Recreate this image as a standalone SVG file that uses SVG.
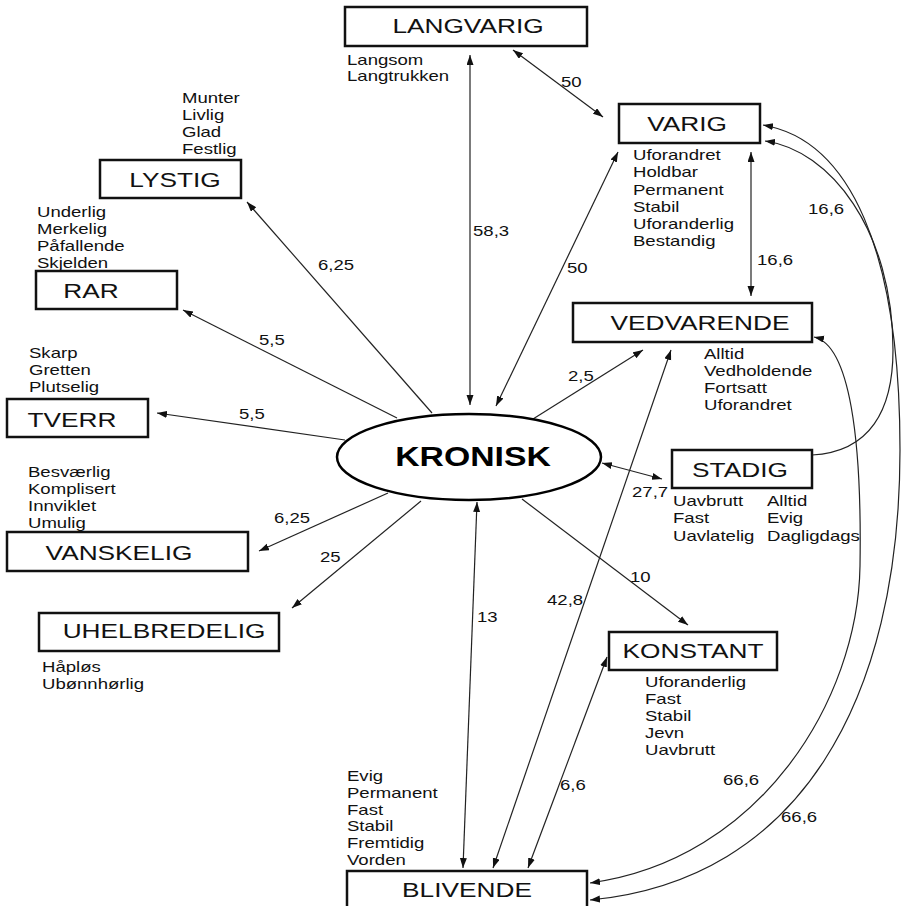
<svg xmlns="http://www.w3.org/2000/svg" width="901" height="906" viewBox="0 0 901 906">
<defs>
<marker id="ah" markerUnits="userSpaceOnUse" markerWidth="11" markerHeight="8" refX="10" refY="3.5" orient="auto-start-reverse" viewBox="0 0 11 8">
<path d="M0,0 L10,3.5 L0,7 z" fill="#111"/>
</marker>
</defs>
<style>
.box{fill:#fff;stroke:#111;stroke-width:2.5}
.lbl{font-family:"Liberation Sans",Arial,sans-serif;font-size:21px;fill:#111;text-anchor:middle}
.sm{font-family:"Liberation Sans",Arial,sans-serif;font-size:14.5px;fill:#111}
.ln{fill:none;stroke:#222;stroke-width:1.2}
.big{font-family:"Liberation Sans",Arial,sans-serif;font-size:27px;font-weight:bold;fill:#000;text-anchor:middle}
</style>
<rect width="901" height="906" fill="#fff"/>

<g id="connectors">
<line class="ln" x1="470" y1="405" x2="470" y2="55" marker-start="url(#ah)" marker-end="url(#ah)"/>
<line class="ln" x1="513" y1="50" x2="603" y2="117" marker-start="url(#ah)" marker-end="url(#ah)"/>
<line class="ln" x1="496" y1="406" x2="618" y2="152" marker-start="url(#ah)" marker-end="url(#ah)"/>
<line class="ln" x1="751" y1="152" x2="751" y2="296" marker-start="url(#ah)" marker-end="url(#ah)"/>
<line class="ln" x1="533" y1="419" x2="643" y2="350" marker-end="url(#ah)"/>
<line class="ln" x1="602" y1="463" x2="662" y2="479" marker-start="url(#ah)" marker-end="url(#ah)"/>
<line class="ln" x1="522" y1="499" x2="688" y2="625" marker-end="url(#ah)"/>
<line class="ln" x1="671" y1="350" x2="493" y2="868" marker-start="url(#ah)" marker-end="url(#ah)"/>
<line class="ln" x1="607" y1="657" x2="528" y2="868" marker-start="url(#ah)" marker-end="url(#ah)"/>
<line class="ln" x1="477" y1="502" x2="463" y2="868" marker-start="url(#ah)" marker-end="url(#ah)"/>
<line class="ln" x1="421" y1="501" x2="292" y2="608" marker-end="url(#ah)"/>
<line class="ln" x1="388" y1="493" x2="259" y2="551" marker-end="url(#ah)"/>
<line class="ln" x1="345" y1="440" x2="157" y2="413" marker-end="url(#ah)"/>
<line class="ln" x1="397" y1="418" x2="183" y2="310" marker-end="url(#ah)"/>
<line class="ln" x1="432" y1="413" x2="247" y2="202" marker-end="url(#ah)"/>
<path class="ln" d="M812,455 C870,452 893,410 893,350 C893,230 830,150 765,141" marker-end="url(#ah)"/>
<path class="ln" d="M763,125 C850,140 900,250 900,450 C900,700 800,880 590,900" marker-start="url(#ah)" marker-end="url(#ah)"/>
<path class="ln" d="M814,337 C850,345 862,440 860,566 C858,700 760,860 590,883" marker-start="url(#ah)" marker-end="url(#ah)"/>

<text class="sm" transform="translate(561,87) scale(1.28,1)">50</text>
<text class="sm" transform="translate(473,236) scale(1.28,1)">58,3</text>
<text class="sm" transform="translate(567,273) scale(1.28,1)">50</text>
<text class="sm" transform="translate(757,265) scale(1.28,1)">16,6</text>
<text class="sm" transform="translate(808,214) scale(1.28,1)">16,6</text>
<text class="sm" transform="translate(318,270) scale(1.28,1)">6,25</text>
<text class="sm" transform="translate(259,345) scale(1.28,1)">5,5</text>
<text class="sm" transform="translate(239,419) scale(1.28,1)">5,5</text>
<text class="sm" transform="translate(274,523) scale(1.28,1)">6,25</text>
<text class="sm" transform="translate(320,562) scale(1.28,1)">25</text>
<text class="sm" transform="translate(568,381) scale(1.28,1)">2,5</text>
<text class="sm" transform="translate(632,497) scale(1.28,1)">27,7</text>
<text class="sm" transform="translate(630,582) scale(1.28,1)">10</text>
<text class="sm" transform="translate(547,605) scale(1.28,1)">42,8</text>
<text class="sm" transform="translate(477,622) scale(1.28,1)">13</text>
<text class="sm" transform="translate(560,790) scale(1.28,1)">6,6</text>
<text class="sm" transform="translate(723,785) scale(1.28,1)">66,6</text>
<text class="sm" transform="translate(781,822) scale(1.28,1)">66,6</text>
</g>

<g id="kronisk">
<ellipse cx="469" cy="457" rx="132" ry="43" fill="#fff" stroke="#000" stroke-width="2.5"/>
<text class="big" transform="translate(473,466) scale(1.25,1)">KRONISK</text>
</g>

<g id="langvarig">
<rect class="box" x="345" y="7" width="242" height="39"/>
<text class="lbl" transform="translate(468,33) scale(1.25,1)">LANGVARIG</text>
<text class="sm" transform="translate(347,65) scale(1.28,1)"><tspan x="0" y="0">Langsom</tspan><tspan x="0" dy="16">Langtrukken</tspan></text>
</g>

<g id="varig">
<rect class="box" x="619" y="104" width="141" height="39"/>
<text class="lbl" transform="translate(687,131) scale(1.25,1)">VARIG</text>
<text class="sm" transform="translate(633,160) scale(1.28,1)"><tspan x="0" y="0">Uforandret</tspan><tspan x="0" dy="17.3">Holdbar</tspan><tspan x="0" dy="17.3">Permanent</tspan><tspan x="0" dy="17.3">Stabil</tspan><tspan x="0" dy="17.3">Uforanderlig</tspan><tspan x="0" dy="17.3">Bestandig</tspan></text>
</g>

<g id="lystig">
<rect class="box" x="100" y="160" width="141" height="38"/>
<text class="lbl" transform="translate(175,187) scale(1.25,1)">LYSTIG</text>
<text class="sm" transform="translate(182,103) scale(1.28,1)"><tspan x="0" y="0">Munter</tspan><tspan x="0" dy="17">Livlig</tspan><tspan x="0" dy="17">Glad</tspan><tspan x="0" dy="17">Festlig</tspan></text>
</g>

<g id="rar">
<rect class="box" x="36" y="271" width="141" height="38"/>
<text class="lbl" transform="translate(91,298) scale(1.25,1)">RAR</text>
<text class="sm" transform="translate(37,217) scale(1.28,1)"><tspan x="0" y="0">Underlig</tspan><tspan x="0" dy="17">Merkelig</tspan><tspan x="0" dy="17">Påfallende</tspan><tspan x="0" dy="17">Skjelden</tspan></text>
</g>

<g id="tverr">
<rect class="box" x="7" y="399" width="141" height="38"/>
<text class="lbl" transform="translate(72,427) scale(1.25,1)">TVERR</text>
<text class="sm" transform="translate(29,358) scale(1.28,1)"><tspan x="0" y="0">Skarp</tspan><tspan x="0" dy="17">Gretten</tspan><tspan x="0" dy="17">Plutselig</tspan></text>
</g>

<g id="vanskelig">
<rect class="box" x="7" y="532" width="241" height="39"/>
<text class="lbl" transform="translate(119,560) scale(1.25,1)">VANSKELIG</text>
<text class="sm" transform="translate(28,477) scale(1.28,1)"><tspan x="0" y="0">Besværlig</tspan><tspan x="0" dy="17">Komplisert</tspan><tspan x="0" dy="17">Innviklet</tspan><tspan x="0" dy="17">Umulig</tspan></text>
</g>

<g id="uhelbredelig">
<rect class="box" x="39" y="613" width="240" height="38"/>
<text class="lbl" transform="translate(164,638) scale(1.25,1)">UHELBREDELIG</text>
<text class="sm" transform="translate(42,672) scale(1.28,1)"><tspan x="0" y="0">Håpløs</tspan><tspan x="0" dy="17">Ubønnhørlig</tspan></text>
</g>

<g id="vedvarende">
<rect class="box" x="573" y="303" width="239" height="39"/>
<text class="lbl" transform="translate(700,330) scale(1.25,1)">VEDVARENDE</text>
<text class="sm" transform="translate(704,359) scale(1.28,1)"><tspan x="0" y="0">Alltid</tspan><tspan x="0" dy="17">Vedholdende</tspan><tspan x="0" dy="17">Fortsatt</tspan><tspan x="0" dy="17">Uforandret</tspan></text>
</g>

<g id="stadig">
<rect class="box" x="672" y="450" width="140" height="38"/>
<text class="lbl" transform="translate(740,477) scale(1.25,1)">STADIG</text>
<text class="sm" transform="translate(673,506) scale(1.28,1)"><tspan x="0" y="0">Uavbrutt</tspan><tspan x="0" dy="17.5">Fast</tspan><tspan x="0" dy="17.5">Uavlatelig</tspan></text>
<text class="sm" transform="translate(767,506) scale(1.28,1)"><tspan x="0" y="0">Alltid</tspan><tspan x="0" dy="17.5">Evig</tspan><tspan x="0" dy="17.5">Dagligdags</tspan></text>
</g>

<g id="konstant">
<rect class="box" x="609" y="632" width="168" height="38"/>
<text class="lbl" transform="translate(693,658) scale(1.25,1)">KONSTANT</text>
<text class="sm" transform="translate(645,687) scale(1.28,1)"><tspan x="0" y="0">Uforanderlig</tspan><tspan x="0" dy="17">Fast</tspan><tspan x="0" dy="17">Stabil</tspan><tspan x="0" dy="17">Jevn</tspan><tspan x="0" dy="17">Uavbrutt</tspan></text>
</g>

<g id="blivende">
<rect class="box" x="347" y="871" width="240" height="40"/>
<text class="lbl" transform="translate(467,897) scale(1.25,1)">BLIVENDE</text>
<text class="sm" transform="translate(347,781) scale(1.28,1)"><tspan x="0" y="0">Evig</tspan><tspan x="0" dy="16.8">Permanent</tspan><tspan x="0" dy="16.8">Fast</tspan><tspan x="0" dy="16.8">Stabil</tspan><tspan x="0" dy="16.8">Fremtidig</tspan><tspan x="0" dy="16.8">Vorden</tspan></text>
</g>
</svg>
